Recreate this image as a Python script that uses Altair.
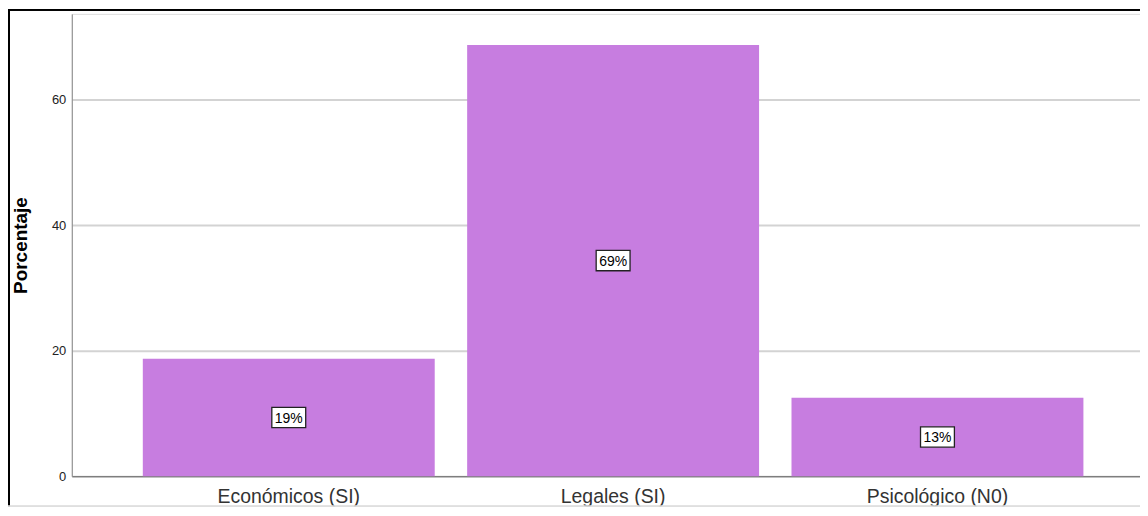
import altair as alt
import pandas as pd

categories = ["Económicos (SI)", "Legales (SI)", "Psicológico (N0)"]
values = [18.7, 68.7, 12.5]
labels = ["19%", "69%", "13%"]

df = pd.DataFrame({"cat": categories, "val": values, "lab": labels})
df["mid"] = df["val"] / 2

W = 1072
H = 464
FONT = "Liberation Sans"

xenc = alt.X("cat:N", sort=categories,
             scale=alt.Scale(range=[0, 1086.5], paddingInner=0.1, paddingOuter=0.219),
             axis=alt.Axis(title=None, labelAngle=0, labelFontSize=19.5, labelColor="#333333",
                           labelFont=FONT, labelPadding=11, ticks=False, domainColor="#666666",
                           domainWidth=1, grid=False))

bars = alt.Chart(df).mark_bar(color="#C77DE0").encode(
    x=xenc,
    y=alt.Y("val:Q", scale=alt.Scale(domain=[0, 73.65], nice=False),
            axis=alt.Axis(title="Porcentaje", values=[0, 20, 40, 60], labelFontSize=13,
                          labelColor="#222222", labelFont=FONT, labelPadding=6, ticks=False,
                          domainColor="#888888", domainWidth=1, gridColor="#D3D3D3",
                          gridWidth=2, titleFont=FONT, titleFontSize=19, titleFontWeight="bold",
                          titleColor="#000000", titleAngle=-90, titleX=-51, titleY=H / 2,
                          titleAlign="center", titleBaseline="middle")),
)

boxes = alt.Chart(df).mark_point(
    shape="M-1,-0.6L1,-0.6L1,0.6L-1,0.6Z", size=34 * 34, filled=True,
    fill="white", stroke="#222222", strokeWidth=1.3, opacity=1
).encode(x=alt.X("cat:N", sort=categories), y="mid:Q")

texts = alt.Chart(df).mark_text(font=FONT, fontSize=14, color="#000000", baseline="middle",
                                align="center", dy=1).encode(
    x=alt.X("cat:N", sort=categories), y="mid:Q", text="lab:N")

frame_top = alt.Chart(df).mark_rule(color="#000000", strokeWidth=2).encode(
    x=alt.value(-64), x2=alt.value(W), y=alt.value(-4))
frame_left = alt.Chart(df).mark_rule(color="#000000", strokeWidth=2).encode(
    x=alt.value(-63), y=alt.value(-5), y2=alt.value(H + 31))
frame_bottom = alt.Chart(df).mark_rule(color="#DDDDDD", strokeWidth=1).encode(
    x=alt.value(-64), x2=alt.value(W), y=alt.value(H + 30))

chart = alt.layer(bars, boxes, texts, frame_top, frame_left, frame_bottom).properties(
    width=W, height=H,
    autosize=alt.AutoSizeParams(type="none"),
    padding={"left": 64, "top": 5, "right": 0, "bottom": 31},
).configure_view(stroke=None).configure(background="white")

chart.save("out.html", embed_options={"renderer": "svg", "actions": False})
